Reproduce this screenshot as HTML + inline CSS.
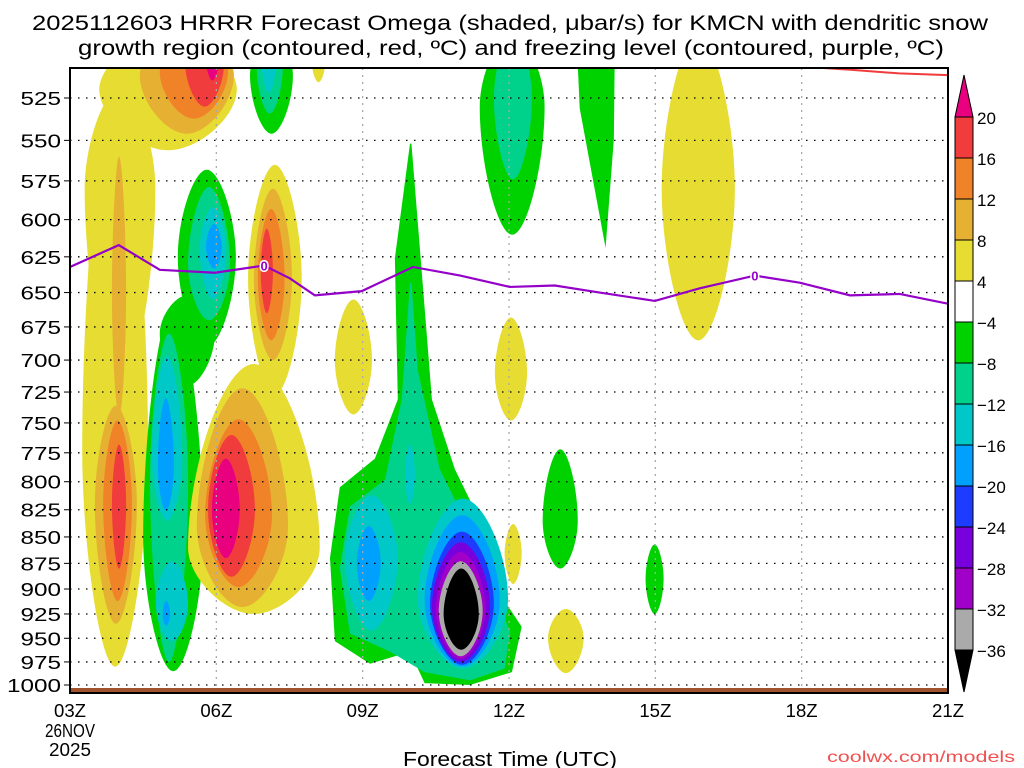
<!DOCTYPE html>
<html><head><meta charset="utf-8">
<style>
html,body{margin:0;padding:0;background:#fff;}
svg{display:block;font-family:"Liberation Sans",sans-serif;}
</style></head>
<body>
<svg id="chart" width="1024" height="768" viewBox="0 0 1024 768" xmlns="http://www.w3.org/2000/svg">
<text x="32" y="30" font-size="21" textLength="956" lengthAdjust="spacingAndGlyphs" fill="#000">2025112603 HRRR Forecast Omega (shaded, μbar/s) for KMCN with dendritic snow</text>
<text x="78" y="55" font-size="21" textLength="866" lengthAdjust="spacingAndGlyphs" fill="#000">growth region (contoured, red, ºC) and freezing level (contoured, purple, ºC)</text>
<defs><clipPath id="plotclip"><rect x="70" y="68" width="878" height="625"/></clipPath></defs>
<g id="shades" clip-path="url(#plotclip)"></g>
<g id="grid"></g>
<g id="lines" clip-path="url(#plotclip)"></g>
<rect x="70" y="68" width="878" height="625" fill="none" stroke="#000" stroke-width="2"/>
<g id="axes"></g>
<g id="cbar"></g>
<text x="403" y="766" font-size="20" textLength="214" lengthAdjust="spacingAndGlyphs" fill="#000">Forecast Time (UTC)</text>
<text x="827" y="762" font-size="16" textLength="188" lengthAdjust="spacingAndGlyphs" fill="#f05050">coolwx.com/models</text>
</svg>
<script>
// ---- data ----
const yTicks = [525,550,575,600,625,650,675,700,725,750,775,800,825,850,875,900,925,950,975,1000];
const xTickHours = [0,3,6,9,12,15,18];
const xTickLabels = ["03Z","06Z","09Z","12Z","15Z","18Z","21Z"];
const cbarLevels = ["20","16","12","8","4","−4","−8","−12","−16","−20","−24","−28","−32","−36"];
const cbarColors = ["#f03c3c","#f08228","#e6b033","#e6dc32","#ffffff","#00d200","#00d28c","#00c8c8","#00a0ff","#1e3cff","#7800dc","#a000c8","#aaaaaa"];
const colorByLevel = {M:"#e8007f",R:"#f03c3c",O2:"#f08228",O1:"#e6b033",Y:"#e6dc32",G:"#00d200",T:"#00d28c",C:"#00c8c8",B:"#00a0ff",DB:"#1e3cff",P:"#7800dc",PM:"#a000c8",GR:"#aaaaaa",K:"#000000"};
// blobs: [hourLeft, hourRight, pTop, pBottom, pWidest, level]
const blobs = [
 [0.6,3.42,490,556,520,"Y"],
 [0.25,1.6,520,980,772,"Y"],
 [0.3,1.75,520,720,580,"Y"],
 [1.43,3.36,490,546,512,"O1"],
 [1.84,3.24,490,537,510,"O2"],
 [2.36,3.16,490,530,505,"R"],
 [2.77,3.07,490,515,500,"M"],
 [0.86,1.15,560,745,650,"O1"],
 [0.51,1.37,736,935,820,"O1"],
 [0.68,1.27,748,912,820,"O2"],
 [0.86,1.15,768,880,820,"R"],
 [3.69,4.57,490,546,512,"G"],
 [3.83,4.36,490,534,508,"T"],
 [3.93,4.22,490,522,505,"C"],
 [2.21,3.4,568,690,625,"G"],
 [1.5,2.73,660,985,850,"G"],
 [1.84,2.97,652,720,680,"G"],
 [2.42,3.28,579,670,630,"T"],
 [2.66,3.2,592,655,620,"C"],
 [2.79,3.11,603,633,618,"B"],
 [1.64,2.42,680,975,800,"T"],
 [1.68,2.3,697,835,780,"C"],
 [1.8,2.13,730,826,785,"B"],
 [1.76,2.42,873,953,915,"C"],
 [1.9,2.05,912,937,925,"B"],
 [3.65,4.75,565,727,640,"Y"],
 [3.77,4.55,580,700,640,"O1"],
 [3.85,4.4,593,685,640,"O2"],
 [3.91,4.16,606,665,635,"R"],
 [2.42,5.12,703,925,860,"Y"],
 [2.6,4.47,722,918,840,"O1"],
 [2.77,4.14,747,898,830,"O2"],
 [2.83,3.79,760,888,825,"R"],
 [2.91,3.48,780,870,825,"M"],
 [5.43,6.19,655,743,700,"Y"],
 [8.4,9.73,490,610,530,"G"],
 [8.69,9.47,490,574,525,"T"],
 [8.71,9.37,668,748,710,"Y"],
 [8.91,9.26,838,895,865,"Y"],
 [9.69,10.41,772,880,835,"G"],
 [9.8,10.53,920,987,950,"Y"],
 [11.8,12.17,857,925,890,"G"],
 [12.13,13.63,490,685,580,"Y"],
 [4.96,5.23,500,516,505,"Y"]
];
const greenRegion = [[6.97,552],[6.66,626],[6.72,731],[6.25,780],[5.53,805],[5.33,870],[5.43,953],[6.15,977],[6.97,964],[7.27,998],[8.2,1000],[9.06,986],[9.26,938],[8.91,912],[8.61,854],[7.89,789],[7.42,731],[7.17,618],[7.0,552]];
const tealRegion = [[6.97,643],[6.8,731],[6.46,798],[5.74,822],[5.53,880],[5.74,945],[6.56,964],[7.27,986],[8.2,995],[8.91,982],[9.02,943],[8.61,893],[8.16,840],[7.58,789],[7.13,708],[7.0,643]];
const spikeRegion = [[10.39,495],[11.17,495],[11.15,549],[10.98,619],[10.45,531]];
const lowerBlobs = [
 [5.64,6.72,812,942,870,"C"],
 [5.88,6.37,840,912,875,"B"],
 [6.87,7.07,768,820,795,"C"],
 [7.13,8.98,815,982,910,"C"],
 [7.27,8.81,830,980,912,"B"],
 [7.38,8.69,845,978,915,"DB"],
 [7.42,8.61,855,975,918,"P"],
 [7.5,8.52,864,972,920,"PM"],
 [7.56,8.46,873,969,922,"GR"],
 [7.66,8.38,880,962,925,"K"]
];
const frzHours = [0,1,1.84,2.97,3.98,4.51,5.02,5.98,7.03,8,9.02,9.94,10.86,11.99,12.91,14.04,14.96,15.99,17.01,18];
const frzPres = [632,617,634,636,631,640,652,649,632,638,646,645,650,656,647,638,643,652,651,658];
const dgzHours = [14.86,16,17,18];
const dgzPres = [507,509,511,512];
const frzLabelHours = [3.98,14.04];
const frzLabelPres = [631,638];

// ---- scales ----
const X0=70,X1=948,Y0=685;
const xs = h => X0 + h*(X1-X0)/18;
const ys = p => Y0 - 911*Math.log(1000/p);
const NS="http://www.w3.org/2000/svg";
function mk(tag, attrs, parent){const e=document.createElementNS(NS,tag);for(const k in attrs)e.setAttribute(k,attrs[k]);parent.appendChild(e);return e;}

const shades=document.getElementById('shades');
function blobPath(b){
  const [h0,h1,pt,pb,pw]=b;const hc=(h0+h1)/2;
  const xl=xs(h0),xr=xs(h1),xc=xs(hc),yt=ys(pt),yb=ys(pb),yw=ys(pw);
  const k=0.45;
  return `M${xc},${yt} C${xc+(xr-xc)*k},${yt} ${xr},${yw-(yw-yt)*k} ${xr},${yw} C${xr},${yw+(yb-yw)*k} ${xc+(xr-xc)*k},${yb} ${xc},${yb} C${xc-(xc-xl)*k},${yb} ${xl},${yw+(yb-yw)*k} ${xl},${yw} C${xl},${yw-(yw-yt)*k} ${xc-(xc-xl)*k},${yt} ${xc},${yt} Z`;
}
function polyPath(pts){return 'M'+pts.map(q=>xs(q[0])+','+ys(q[1])).join(' L')+' Z';}
blobs.forEach(b=>{
  const e=mk('path',{d:blobPath(b),fill:colorByLevel[b[5]]},shades);
  
  
});
[[greenRegion,"G"],[tealRegion,"T"],[spikeRegion,"G"]].forEach(r=>{
  const e=mk('path',{d:polyPath(r[0]),fill:colorByLevel[r[1]],'stroke-linejoin':'round'},shades);
  
  
});
lowerBlobs.forEach(b=>{
  const e=mk('path',{d:blobPath(b),fill:colorByLevel[b[5]]},shades);
  
  
});
const g1=mk('rect',{x:70,y:688,width:878,height:7,fill:'#a0522d'},shades);



// grid
const grid=document.getElementById('grid');
yTicks.forEach(p=>{
  const l=mk('line',{x1:70,x2:948,y1:ys(p),y2:ys(p),stroke:'#000','stroke-width':1.3,'stroke-dasharray':'1.5 6.5'},grid);
  
  
});
xTickHours.slice(1,-1).forEach(h=>{
  const l=mk('line',{x1:xs(h),x2:xs(h),y1:68,y2:688,stroke:'#aaa','stroke-width':1.3,'stroke-dasharray':'2 5'},grid);
  
  
});

// lines
const lines=document.getElementById('lines');
const fl=mk('polyline',{points:frzHours.map((h,i)=>xs(h)+','+ys(frzPres[i])).join(' '),fill:'none',stroke:'#9400c8','stroke-width':2.2},lines);


frzLabelHours.forEach((h,i)=>{
  const t=mk('text',{x:xs(h),y:ys(frzLabelPres[i])+5,'font-size':13,'font-weight':'bold','text-anchor':'middle',fill:'#9400c8',stroke:'#fff','stroke-width':3,'paint-order':'stroke'},lines);
  t.textContent='0';
  
  
});
const dl=mk('polyline',{points:dgzHours.map((h,i)=>xs(h)+','+ys(dgzPres[i])).join(' '),fill:'none',stroke:'#f03c3c','stroke-width':2},lines);



// axes
const axes=document.getElementById('axes');
yTicks.forEach(p=>{
  const s=String(p);
  const w=s.length*13.5;
  const t=mk('text',{x:61-w,y:ys(p)+7,'font-size':18,textLength:w,lengthAdjust:'spacingAndGlyphs',fill:'#000'},axes);
  t.textContent=s;
  
  
  const k=mk('line',{x1:64,x2:70,y1:ys(p),y2:ys(p),stroke:'#000','stroke-width':1},axes);
  
  
});
xTickHours.forEach((h,i)=>{
  const t=mk('text',{x:xs(h)-16,y:717,'font-size':18,textLength:32,lengthAdjust:'spacingAndGlyphs',fill:'#000'},axes);
  t.textContent=xTickLabels[i];
  
  
});
[["26NOV",737,50],["2025",756,42]].forEach(d=>{
  const t=mk('text',{x:70-d[2]/2,y:d[1],'font-size':18,textLength:d[2],lengthAdjust:'spacingAndGlyphs',fill:'#000'},axes);
  t.textContent=d[0];
  
  
});

// colorbar
const cb=document.getElementById('cbar');
const CX=955,CW=18,CT=117,CH=41;
const tri1=mk('polygon',{points:`${CX},${CT} ${CX+CW},${CT} ${CX+CW/2},${CT-42}`,fill:'#e8007f',stroke:'#000','stroke-width':1},cb);


cbarColors.forEach((c,i)=>{
  const r=mk('rect',{x:CX,y:CT+i*CH,width:CW,height:CH,fill:c,stroke:'#000','stroke-width':1},cb);
  
  
});
const bot=CT+cbarColors.length*CH;
const tri2=mk('polygon',{points:`${CX},${bot} ${CX+CW},${bot} ${CX+CW/2},${bot+42}`,fill:'#000',stroke:'#000','stroke-width':1},cb);


cbarLevels.forEach((l,i)=>{
  const t=mk('text',{x:977,y:CT+i*CH+7,'font-size':17,fill:'#000'},cb);
  t.textContent=l;
  
  
});
</script>
</body></html>
